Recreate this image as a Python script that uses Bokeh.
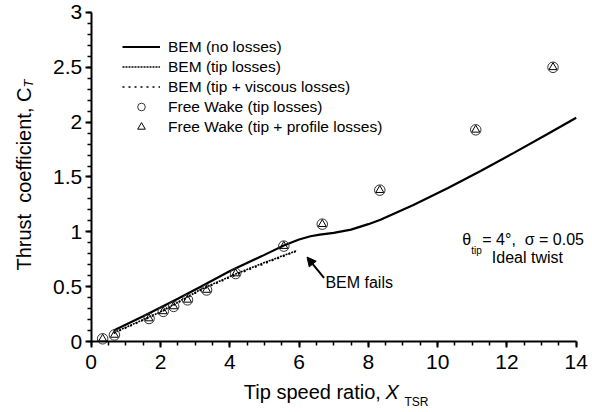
import math
from bokeh.plotting import figure
from bokeh.models import (Label, Legend, LegendItem, SingleIntervalTicker, Range1d, Arrow, NormalHead)
from bokeh.embed import file_html
from bokeh.resources import INLINE

# ---- data ----
bem_x = [0.65, 1.5, 2.5, 3.16, 4.02, 5.0, 5.56, 6.0, 6.33, 6.6, 7.0, 7.5, 8.0, 8.35, 8.8, 9.3, 10.3, 11.24, 12.2, 13.16, 14.0]
bem_y = [0.10, 0.23, 0.39, 0.50, 0.645, 0.79, 0.875, 0.93, 0.96, 0.975, 0.99, 1.02, 1.07, 1.11, 1.175, 1.245, 1.40, 1.555, 1.72, 1.89, 2.04]

tip_x = [0.65, 2.0, 3.16, 4.2, 5.0, 5.94]
tip_y = [0.08, 0.27, 0.475, 0.62, 0.72, 0.83]

visc_x = [0.65, 2.0, 3.16, 4.2, 5.0, 5.9]
visc_y = [0.075, 0.265, 0.468, 0.612, 0.71, 0.82]

fw_x = [0.33, 0.67, 1.67, 2.08, 2.38, 2.78, 3.33, 4.17, 5.56, 6.67, 8.33, 11.1, 13.33]
fw_tip_y = [0.025, 0.06, 0.21, 0.275, 0.32, 0.38, 0.47, 0.62, 0.87, 1.07, 1.38, 1.93, 2.50]
fw_prof_y = [0.025, 0.06, 0.21, 0.275, 0.32, 0.38, 0.47, 0.62, 0.87, 1.07, 1.38, 1.93, 2.50]

x_ticks = [0, 2, 4, 6, 8, 10, 12, 14]
y_ticks = [0, 0.5, 1, 1.5, 2, 2.5, 3]
y_tick_labels = ["0", "0.5", "1", "1.5", "2", "2.5", "3"]

FONT = "Liberation Sans"
NB = "\u00a0"

# the frame fills the whole canvas; axes sit at x=0 / y=0 via fixed_location
p = figure(width=592, height=412, output_backend="svg", toolbar_location=None,
           x_range=Range1d(-2.618, 14.47), y_range=Range1d(-0.647, 3.109),
           min_border_left=0, min_border_right=0, min_border_top=0, min_border_bottom=0)
p.outline_line_color = None
p.grid.visible = False
p.background_fill_color = "white"
p.border_fill_color = "white"

for ax in (p.xaxis[0], p.yaxis[0]):
    ax.fixed_location = 0
    ax.axis_line_width = 2
    ax.major_tick_line_width = 2
    ax.minor_tick_line_width = 1.5
    ax.major_tick_out = 6
    ax.major_tick_in = 0
    ax.minor_tick_out = 4
    ax.minor_tick_in = 0
    ax.major_label_text_font = FONT
    ax.major_label_text_font_size = "21px"
    ax.major_label_text_color = "black"
    ax.axis_line_color = "black"

p.xaxis.bounds = (x_ticks[0], x_ticks[-1])
p.yaxis.bounds = (y_ticks[0], y_ticks[-1])
p.xaxis.ticker = SingleIntervalTicker(interval=2, num_minor_ticks=4)
p.yaxis.ticker = SingleIntervalTicker(interval=0.5, num_minor_ticks=5)
p.yaxis.major_label_overrides = {t: l for t, l in zip(y_ticks, y_tick_labels)}
p.xaxis.major_label_overrides = {t: str(t) for t in x_ticks}
p.xaxis.major_label_standoff = 7
p.yaxis.major_label_standoff = 3

r1 = p.line(bem_x, bem_y, line_color="black", line_width=2.2)
r2 = p.line(tip_x, tip_y, line_color="black", line_width=1.6, line_dash="2 1")
r3 = p.line(visc_x, visc_y, line_color="black", line_width=1.6, line_dash="2 4")
r4 = p.scatter(fw_x, fw_tip_y, marker="circle", size=10.5, fill_color=None, line_color="#333333", line_width=1)
r5 = p.scatter(fw_x, fw_prof_y, marker="triangle", size=8, fill_color=None, line_color="black", line_width=1)

legend = Legend(items=[
    LegendItem(label="BEM (no losses)", renderers=[r1]),
    LegendItem(label="BEM (tip losses)", renderers=[r2]),
    LegendItem(label="BEM (tip + viscous losses)", renderers=[r3]),
    LegendItem(label="Free Wake (tip losses)", renderers=[r4]),
    LegendItem(label="Free Wake (tip + profile losses)", renderers=[r5]),
], location=(122, 276), padding=0, margin=0, spacing=1, glyph_width=38, glyph_height=19,
   label_height=19, label_standoff=8, border_line_color=None, background_fill_alpha=0,
   label_text_font=FONT, label_text_font_size="15.5px", label_text_color="black")
p.add_layout(legend)

def mk(x, y, text, size, align="left", style="normal", angle=0.0):
    return Label(x=x, y=y, text=text, text_font=FONT, text_font_size=size,
                 text_font_style=style, text_align=align, text_baseline="alphabetic",
                 angle=angle, text_color="black")

for m in [
    # axis titles
    mk(4.405, -0.456, "Tip speed ratio,", "20px"),
    mk(8.495, -0.456, "X", "20px", style="italic"),
    mk(9.04, -0.547, "TSR", "12px"),
    mk(-1.933, 0.647, "Thrust" + NB + NB + "coefficient, C", "20px", angle=math.pi / 2),
    mk(-1.81, 2.316, "T", "13px", style="italic", angle=math.pi / 2),
    # annotations
    mk(10.71, 0.93, "θ", "16px"),
    mk(10.97, 0.83, "tip", "10px"),
    mk(11.29, 0.93, "=" + NB + "4°," + NB + NB + "σ = 0.05", "16px"),
    mk(12.59, 0.765, "Ideal twist", "16px", align="center"),
    mk(6.76, 0.54, "BEM fails", "16px"),
]:
    p.add_layout(m)
p.add_layout(Arrow(x_start=6.72, y_start=0.58, x_end=6.23, y_end=0.77, line_width=2,
                   end=NormalHead(size=9, fill_color="black", line_color="black")))

open("out.html", "w").write(file_html(p, INLINE))
